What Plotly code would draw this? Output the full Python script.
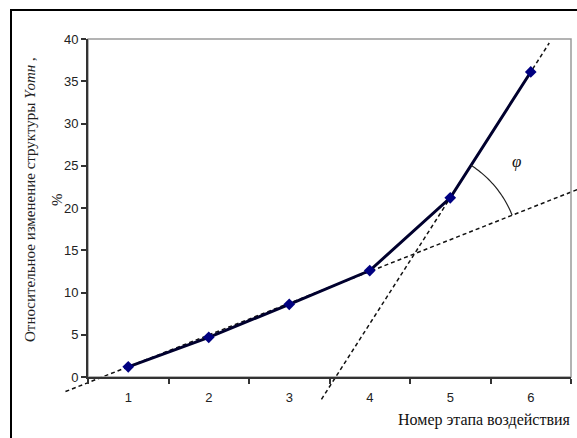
import numpy as np
import plotly.graph_objects as go

# ---- data ----
stages = [1, 2, 3, 4, 5, 6]
values = [1.2, 4.7, 8.6, 12.6, 21.2, 36.1]
x_tick_labels = ["1", "2", "3", "4", "5", "6"]
y_tick_vals = [0, 5, 10, 15, 20, 25, 30, 35, 40]
# tangent (dashed) lines: slope, intercept, x-start, x-end (data units)
trend1 = [3.76, -2.55, 0.22, 6.6]
trend2 = [14.9, -53.3, 3.40, 6.23]

# ---- layout geometry ----
W, H = 577, 438
ML, MR, MT, MB = 88, 6, 39, 61
PW, PH = W - ML - MR, H - MT - MB
XR = [0.5, 6.5]
YR = [0, 40]


def dx2p(x):
    return (x - XR[0]) / (XR[1] - XR[0])


def dy2p(y):
    return (y - YR[0]) / (YR[1] - YR[0])


def px2p(px):
    return (px - ML) / PW


def py2p(py):
    return (H - MB - py) / PH


fig = go.Figure()
fig.add_trace(go.Scatter(
    x=stages, y=values, mode="lines+markers",
    line=dict(color="#00002e", width=3),
    marker=dict(symbol="diamond", size=9, color="#000080"),
    showlegend=False, hoverinfo="skip"))

shapes = []
# dashed tangent lines (in paper coords so they may leave the plot area)
for s, b, x0, x1 in (trend1, trend2):
    shapes.append(dict(type="line", xref="paper", yref="paper",
                       x0=dx2p(x0), y0=dy2p(s * x0 + b),
                       x1=dx2p(x1), y1=dy2p(s * x1 + b),
                       line=dict(color="#111111", width=1.5, dash="4px,3px"),
                       layer="below"))

# angle arc between the two lines, drawn in pixel space
xi = (trend2[1] - trend1[1]) / (trend1[0] - trend2[0])
yi = trend1[0] * xi + trend1[1]
cx = ML + dx2p(xi) * PW
cy = H - MB - dy2p(yi) * PH
kx = PW / (XR[1] - XR[0])
ky = PH / (YR[1] - YR[0])
a1 = np.arctan2(trend1[0] * ky, kx)
a2 = np.arctan2(trend2[0] * ky, kx)
r = 105
angs = np.linspace(a2, a1, 30)
pts = [(px2p(cx + r * np.cos(a)), py2p(cy - r * np.sin(a))) for a in angs]
path = "M " + " L ".join(f"{u:.5f},{v:.5f}" for u, v in pts)
shapes.append(dict(type="path", xref="paper", yref="paper", path=path,
                   line=dict(color="#222222", width=1.2)))

# plot area border (top/right light gray)
shapes.append(dict(type="rect", xref="paper", yref="paper", x0=0, y0=0, x1=1, y1=1,
                   line=dict(color="#9a9a9a", width=1.5), layer="below"))
# outer black frame
shapes.append(dict(type="rect", xref="paper", yref="paper",
                   x0=px2p(11), y0=py2p(H + 20), x1=px2p(W + 20), y1=py2p(10),
                   line=dict(color="#000000", width=2), layer="below"))

serif = "Liberation Serif, Times New Roman, serif"
annotations = [
    dict(text="Относительное изменение структуры <i>Yотн</i> ,",
         xref="paper", yref="paper", x=px2p(30), y=py2p(200),
         textangle=-90, showarrow=False, xanchor="center", yanchor="middle",
         font=dict(family=serif, size=15, color="#222")),
    dict(text="%", xref="paper", yref="paper", x=px2p(57), y=py2p(200),
         textangle=-90, showarrow=False, xanchor="center", yanchor="middle",
         font=dict(family=serif, size=15, color="#222")),
    dict(text="Номер этапа воздействия", xref="paper", yref="paper",
         x=px2p(573), y=py2p(420), xanchor="right", yanchor="middle", showarrow=False,
         font=dict(family=serif, size=16, color="#111")),
    dict(text="<i>φ</i>", xref="paper", yref="paper",
         x=px2p(516), y=py2p(161), xanchor="center", yanchor="middle", showarrow=False,
         font=dict(family=serif, size=17, color="#111")),
]

tickfont = dict(family="Liberation Sans Narrow, Arial Narrow, Liberation Sans, sans-serif",
                size=13, color="#222")
fig.update_layout(
    width=W, height=H, margin=dict(l=ML, r=MR, t=MT, b=MB),
    paper_bgcolor="white", plot_bgcolor="white",
    shapes=shapes, annotations=annotations,
    xaxis=dict(range=XR, tickmode="array", tickvals=stages, ticktext=x_tick_labels,
               ticks="", showgrid=False, zeroline=False,
               showline=True, linecolor="#333", linewidth=1.8,
               tickfont=tickfont, ticklabelstandoff=7,
               minor=dict(tickmode="linear", tick0=0.5, dtick=1, ticks="outside",
                          ticklen=5, tickcolor="#333", tickwidth=1.5, showgrid=False)),
    yaxis=dict(range=YR, tickmode="array", tickvals=y_tick_vals,
               ticks="outside", ticklen=5, tickcolor="#333", tickwidth=1.5,
               showgrid=False, zeroline=False,
               showline=True, linecolor="#333", linewidth=1.8,
               tickfont=tickfont),
)

fig.write_html("out.html", config={"displayModeBar": False},
               post_script="document.body.style.margin='0px';document.body.style.overflow='hidden';")
